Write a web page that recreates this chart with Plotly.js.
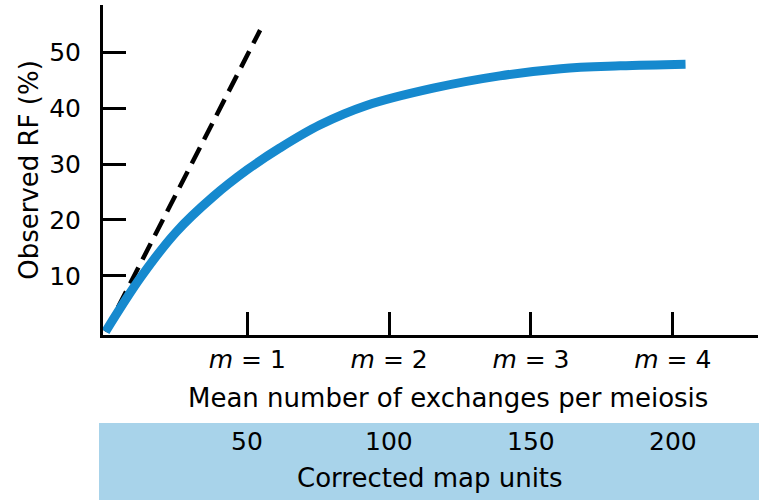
<!DOCTYPE html>
<html>
<head>
<meta charset="utf-8">
<script src="https://cdn.plot.ly/plotly-3.0.1.min.js"></script>
<style>html,body{margin:0;padding:0;background:#fff;}#chart{width:759px;height:500px;}</style>
</head>
<body>
<div id="chart"></div>
<script>
// Observed recombination frequency (%) vs mean number of exchanges per meiosis (m)
const curveM   = [0, 0.25, 0.50, 0.76, 1.00, 1.23, 1.51, 1.84, 2.31, 2.78, 3.21, 3.63, 4.09];
const curveRF  = [0, 9.8, 17.9, 24.2, 29.0, 32.9, 37.0, 40.5, 43.6, 45.8, 47.1, 47.6, 47.9];
const lineM    = [0, 1.09];
const lineRF   = [0, 54.0];
const mTicks   = [1, 2, 3, 4];
const mTickText = ["<i>m</i> = 1", "<i>m</i> = 2", "<i>m</i> = 3", "<i>m</i> = 4"];
const yTicks   = [10, 20, 30, 40, 50];
const mapUnits = [50, 100, 150, 200];
const xTitle = "Mean number of exchanges per meiosis";
const yTitle = "Observed RF (%)";
const bandTitle = "Corrected map units";

const FONT = "DejaVu Sans, Liberation Sans, Arial, sans-serif";

const traces = [
  {x: lineM, y: lineRF, mode: "lines", line: {color: "#000", width: 4.5, dash: "18px,9px"}, hoverinfo: "skip"},
  {x: curveM, y: curveRF, mode: "lines", line: {color: "rgb(22,137,206)", width: 9, shape: "spline", smoothing: 1}, hoverinfo: "skip"}
];

const annotations = mapUnits.map((u, i) => ({
  x: mTicks[i], xref: "x", y: -0.324, yref: "paper", text: String(u), showarrow: false,
  font: {family: FONT, size: 25, color: "#000"}, xanchor: "center", yanchor: "middle"
}));
annotations.push({x: 448, xref: "paper", y: -0.191, yref: "paper", text: xTitle, showarrow: false,
  font: {family: FONT, size: 26, color: "#000"}, xanchor: "center", yanchor: "middle"});
annotations.push({x: 430, xref: "paper", y: -0.433, yref: "paper", text: bandTitle, showarrow: false,
  font: {family: FONT, size: 26, color: "#000"}, xanchor: "center", yanchor: "middle"});
// convert pixel-based x for the two titles to paper fractions
annotations.forEach(a => { if (a.xref === "paper") a.x = (a.x - 103) / 655; });

const layout = {
  width: 759, height: 500,
  margin: {l: 103, r: 1, t: 5, b: 165},
  paper_bgcolor: "#fff", plot_bgcolor: "#fff",
  showlegend: false,
  font: {family: FONT, size: 25, color: "#000"},
  xaxis: {
    range: [-0.018, 4.601], showgrid: false, zeroline: false,
    showline: true, linecolor: "#000", linewidth: 3,
    ticks: "inside", ticklen: 23, tickwidth: 3, tickcolor: "#000",
    tickvals: mTicks, ticktext: mTickText, ticklabelstandoff: 0,
    tickfont: {family: FONT, size: 25, color: "#000"}
  },
  yaxis: {
    range: [-0.6, 58.5], showgrid: false, zeroline: false,
    showline: true, linecolor: "#000", linewidth: 3,
    ticks: "inside", ticklen: 23, tickwidth: 3, tickcolor: "#000",
    tickvals: yTicks, ticklabelstandoff: 14,
    tickfont: {family: FONT, size: 25, color: "#000"},
    title: {text: yTitle, font: {family: FONT, size: 26, color: "#000"}, standoff: 4}
  },
  shapes: [{
    type: "rect", xref: "paper", yref: "paper", layer: "below",
    x0: (99 - 103) / 655, x1: 1.01, y0: -0.2667, y1: -0.5,
    fillcolor: "rgb(168,211,234)", line: {width: 0}
  }],
  annotations: annotations
};

Plotly.newPlot("chart", traces, layout, {displayModeBar: false, staticPlot: true});
</script>
</body>
</html>
